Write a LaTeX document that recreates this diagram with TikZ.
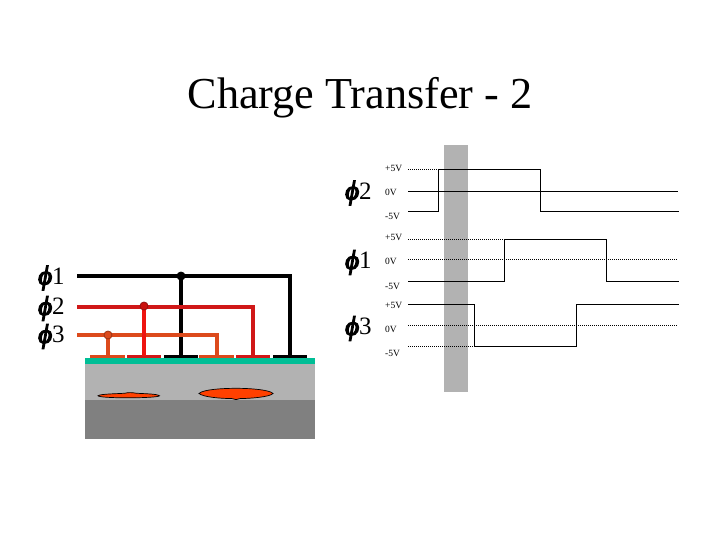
\documentclass[tikz,border=0pt]{standalone}
\usepackage{fontspec}
\setmainfont{Liberation Serif}
\newfontfamily\phifont[ItalicFeatures={FakeBold=5}]{Liberation Serif}
\definecolor{wred}{HTML}{D01818}
\definecolor{wredv}{HTML}{EE1410}
\definecolor{wor}{HTML}{DC4A1C}
\definecolor{woxide}{HTML}{00BE96}
\definecolor{lgray}{HTML}{B2B2B2}
\definecolor{dgray}{HTML}{808080}
\definecolor{blob}{HTML}{FF4000}
\tikzset{
 wire/.style={line width=3.2pt,line join=miter},
 elec/.style={line width=3pt},
 junc/.style={circle,draw=#1,line width=0.8pt,minimum size=8pt,inner sep=0pt},
 sig/.style={line width=1.3pt,black},
 dots/.style={line width=1.1pt,black,dash pattern=on 1pt off 1pt},
 volt/.style={font=\fontsize{9.5}{9.5}\selectfont,inner sep=0pt,anchor=west},
 phi/.style={font=\fontsize{25}{25}\selectfont,inner sep=0pt,anchor=west},
 ttl/.style={font=\fontsize{44.2}{44.2}\selectfont,inner sep=0pt},
}
\newcommand{\phisym}{{\phifont\itshape\fontsize{27}{27}\selectfont ϕ}}
\begin{document}
\begin{tikzpicture}[x=1pt,y=-1pt]
\useasboundingbox (0,0) rectangle (720,540);
\fill[white] (0,0) rectangle (720,540);
\node[ttl] (title) at (360,98) {Charge Transfer - 2};
% substrate
\fill[lgray] (85,364) rectangle (315,400);
\fill[dgray] (85,400) rectangle (315,439);
\fill[woxide] (85,358) rectangle (315,364);
% charge packets
\draw[black,line width=0.7pt,fill=blob] (98,395.8) .. controls (100,393.8) and (118,393.8) .. (125,393.2) .. controls (128,392.4) and (132,392.4) .. (136,393.2) .. controls (145,393.8) and (157,393.8) .. (159.5,395.8) .. controls (157,398.4) and (100,398.6) .. (98,395.8) -- cycle;
\draw[black,line width=0.7pt,fill=blob] (199,393.5) .. controls (203,389.5) and (222,388.3) .. (236,388.3) .. controls (252,388.3) and (270,390) .. (273,393.5) .. controls (270,397) and (250,398.5) .. (240,398.6) -- (236,399.6) -- (232,398.6) .. controls (220,398.5) and (203,397) .. (199,393.5) -- cycle;
% electrodes
\draw[elec,wor] (90,356.7) -- (125,356.7);
\draw[elec,wred] (127,356.7) -- (160.7,356.7);
\draw[elec,black] (164,356.7) -- (197.7,356.7);
\draw[elec,wor] (199,356.7) -- (233.7,356.7);
\draw[elec,wred] (236,356.7) -- (269.7,356.7);
\draw[elec,black] (273,356.7) -- (306.7,356.7);
% named wire points
\coordinate (a1) at (77,276);
\coordinate (a2) at (77,307);
\coordinate (a3) at (77,335);
\coordinate (j1) at (181,276);
\coordinate (j2) at (144,306);
\coordinate (j3) at (108,335);
\coordinate (b1) at (181,356);
\coordinate (b2) at (144,356);
\coordinate (b3) at (108,356);
\coordinate (c1) at (290,356);
\coordinate (c2) at (253,356);
\coordinate (c3) at (217,356);
% wires, back to front
\draw[wire,black] (j1) -- (b1);
\draw[wire,black] (a1) -- (c1 |- a1) -- (c1);
\draw[wire,wred] (a2) -- (c2 |- a2) -- (c2);
\draw[wire,wor] (a3) -- (c3 |- a3) -- (c3);
\draw[wire,wor] (j3) -- (b3);
\draw[wire,wredv] (j2) -- (b2);
\node[junc=black,fill=black] (n1) at (j1) {};
\node[junc=wred!70!black,fill=wredv!85!black] (n2) at (j2) {};
\node[junc=wor!70!black,fill=wor] (n3) at (j3) {};
% left labels
\node[phi] (l1) at (38,278) {\phisym 1};
\node[phi] (l2) at (38,308.5) {\phisym 2};
\node[phi] (l3) at (38,336.5) {\phisym 3};
% band
\fill[lgray] (444,145) rectangle (467.7,391.7);
% phi2 waveform
\node[phi] (p2) at (345,193) {\phisym 2};
\node[volt] (v2a) at (385,168) {+5V};
\node[volt] (v2b) at (385,192) {0V};
\node[volt] (v2c) at (385,216) {-5V};
\coordinate (s2) at (408,169.3);
\coordinate (s2m) at (408,191.7);
\coordinate (s2l) at (408,211.3);
\draw[dots] (s2) -- (438.7,169.3);
\draw[sig] (s2m) -- (678,191.7);
\draw[sig] (s2l) -- (438.7,211.3) -- (438.7,169.3) -- (540.7,169.3) -- (540.7,211.3) -- (679,211.3);
% phi1 waveform
\node[phi] (p1) at (345,262.5) {\phisym 1};
\node[volt] (v1a) at (385,237) {+5V};
\node[volt] (v1b) at (385,261) {0V};
\node[volt] (v1c) at (385,286) {-5V};
\coordinate (s1) at (408,239.3);
\coordinate (s1m) at (408,259.7);
\coordinate (s1l) at (408,281.3);
\draw[dots] (s1) -- (504.3,239.3);
\draw[dots] (s1m) -- (678,259.7);
\draw[sig] (s1l) -- (504.3,281.3) -- (504.3,239.3) -- (606.7,239.3) -- (606.7,281.3) -- (679,281.3);
% phi3 waveform
\node[phi] (p3) at (345,328.5) {\phisym 3};
\node[volt] (v3a) at (385,305) {+5V};
\node[volt] (v3b) at (385,329) {0V};
\node[volt] (v3c) at (385,353) {-5V};
\coordinate (s3) at (408,304.3);
\coordinate (s3m) at (408,325.3);
\coordinate (s3l) at (408,346.3);
\draw[dots] (s3l) -- (474.3,346.3);
\draw[dots] (s3m) -- (678,325.3);
\draw[sig] (s3) -- (474.3,304.3) -- (474.3,346.3) -- (576.7,346.3) -- (576.7,304.3) -- (679,304.3);
\end{tikzpicture}
\end{document}
